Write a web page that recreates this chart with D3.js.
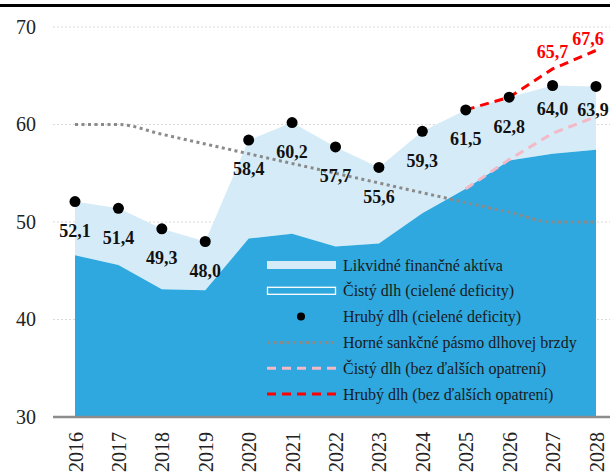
<!DOCTYPE html>
<html lang="sk">
<head>
    <meta charset="UTF-8">
    <title>Dlh</title>
    <script src="https://cdn.jsdelivr.net/npm/d3@7"></script>
    <style>
        body { margin: 0; background: #ffffff; }
        svg text { font-family: "Liberation Serif", "Times New Roman", "DejaVu Serif", serif; }
    </style>
</head>
<body>
<div id="container"></div>
<script>

    // data
    const years = ["2016","2017","2018","2019","2020","2021","2022","2023","2024","2025","2026","2027","2028"];
    const grossDebt = [52.1, 51.4, 49.3, 48.0, 58.4, 60.2, 57.7, 55.6, 59.3, 61.5, 62.8, 64.0, 63.9];
    const netDebt = [46.6, 45.6, 43.1, 43.0, 48.3, 48.8, 47.5, 47.8, 50.9, 53.4, 56.3, 57.0, 57.4];
    const brakeBand = [60, 60, 59, 58, 57, 56, 55, 54, 53, 52, 51, 50, 50];
    const noMeasuresYears = ["2025","2026","2027","2028"];
    const netNoMeasures = [53.4, 56.4, 59.1, 60.8];
    const grossNoMeasures = [61.5, 62.8, 65.7, 67.6];
    const yTicks = [30, 40, 50, 60, 70];
    const legendLabels = [
        "Likvidné finančné aktíva",
        "Čistý dlh (cielené deficity)",
        "Hrubý dlh (cielené deficity)",
        "Horné sankčné pásmo dlhovej brzdy",
        "Čistý dlh (bez ďalších opatrení)",
        "Hrubý dlh (bez ďalších opatrení)"
    ];

    const serif = "Liberation Serif, Times New Roman, serif";
    const fmt = v => v.toFixed(1).replace(".", ",");

    let W = 610, H = 472;
    let svg = d3.select("#container")
        .append("svg")
        .attr("width", W)
        .attr("height", H)
        .attr("font-family", serif);

    let x = d3.scalePoint()
        .domain(years)
        .range([75, 596]);
    let y = d3.scaleLinear()
        .domain([30, 70])
        .range([417, 27]);

    // top rule
    svg.append("rect")
        .attr("x", 0).attr("y", 4)
        .attr("width", W).attr("height", 3)
        .attr("fill", "#000");

    // gridlines
    svg.append("g")
        .selectAll("line")
        .data(yTicks.filter(d => d > 30))
        .join("line")
        .attr("x1", 53).attr("x2", W)
        .attr("y1", d => y(d)).attr("y2", d => y(d))
        .style("stroke", "#d9d9d9")
        .style("stroke-width", "1px")
        .style("stroke-dasharray", "2,2");

    // net debt area (dark)
    let areaNet = d3.area()
        .x((d, i) => x(years[i]))
        .y0(y(30))
        .y1(d => y(d));
    // liquid assets (between net and gross)
    let areaLiquid = d3.area()
        .x((d, i) => x(years[i]))
        .y0((d, i) => y(netDebt[i]))
        .y1(d => y(d));

    svg.append("path")
        .datum(grossDebt)
        .attr("d", areaLiquid)
        .attr("fill", "#d5ecf8");
    svg.append("path")
        .datum(netDebt)
        .attr("d", areaNet)
        .attr("fill", "#2ea8df");

    // debt brake band
    let lineBrake = d3.line()
        .x((d, i) => x(years[i]))
        .y(d => y(d))
        .curve(d3.curveMonotoneX);
    svg.append("path")
        .datum(brakeBand)
        .attr("d", lineBrake)
        .attr("fill", "none")
        .style("stroke", "#8a8a8a")
        .style("stroke-width", "3px")
        .style("stroke-dasharray", "3,3.5");

    let lineNoMeasures = d3.line()
        .x((d, i) => x(noMeasuresYears[i]))
        .y(d => y(d));
    svg.append("path")
        .datum(netNoMeasures)
        .attr("d", lineNoMeasures)
        .attr("fill", "none")
        .style("stroke", "#f4b8c6")
        .style("stroke-width", "3px")
        .style("stroke-dasharray", "9,6");
    svg.append("path")
        .datum(grossNoMeasures)
        .attr("d", lineNoMeasures)
        .attr("fill", "none")
        .style("stroke", "#ff0000")
        .style("stroke-width", "3px")
        .style("stroke-dasharray", "9,6");

    // gross debt dots
    svg.append("g")
        .selectAll("circle")
        .data(grossDebt)
        .join("circle")
        .attr("cx", (d, i) => x(years[i]))
        .attr("cy", d => y(d))
        .attr("r", 5.5)
        .attr("fill", "#000");

    // gross debt labels
    svg.append("g")
        .selectAll("text")
        .data(grossDebt)
        .join("text")
        .attr("x", (d, i) => x(years[i]) - (i === 12 ? 3 : 0))
        .attr("y", (d, i) => y(d) + (i >= 11 ? 23 : 29))
        .attr("dy", "0.35em")
        .attr("text-anchor", "middle")
        .attr("font-family", serif)
        .style("font-size", "18px")
        .style("font-weight", "bold")
        .style("fill", "#111")
        .text(d => fmt(d));

    // red labels (no measures, last two)
    svg.append("g")
        .selectAll("text")
        .data(grossNoMeasures.slice(2))
        .join("text")
        .attr("x", (d, i) => x(noMeasuresYears[i + 2]) - (i === 1 ? 8 : 0))
        .attr("y", (d, i) => y(d) - (i === 1 ? 12 : 17))
        .attr("dy", "0.35em")
        .attr("text-anchor", "middle")
        .attr("font-family", serif)
        .style("font-size", "18px")
        .style("font-weight", "bold")
        .style("fill", "#ff0000")
        .text(d => fmt(d));

    // y axis
    let yAxis = svg.append("g")
        .attr("transform", "translate(36,0)")
        .call(d3.axisLeft(y).tickValues(yTicks).tickSize(0).tickFormat(d3.format("d")));
    yAxis.attr("font-family", serif);
    yAxis.select(".domain").remove();
    yAxis.selectAll("text")
        .attr("x", 0)
        .style("font-size", "20px")
        .style("fill", "#222");

    // x axis
    let xAxis = svg.append("g")
        .attr("transform", "translate(0," + y(30) + ")")
        .call(d3.axisBottom(x).tickSize(0));
    xAxis.attr("font-family", serif);
    xAxis.select(".domain").remove();
    xAxis.selectAll("text")
        .attr("transform", "rotate(-90)")
        .attr("x", -15)
        .attr("y", 0)
        .attr("dy", "0.35em")
        .attr("text-anchor", "end")
        .style("font-size", "20px")
        .style("fill", "#222");
    svg.append("line")
        .attr("x1", 53).attr("x2", W)
        .attr("y1", y(30)).attr("y2", y(30))
        .style("stroke", "#8c8c8c")
        .style("stroke-width", "2.5px");

    // legend
    let legend = svg.append("g").attr("transform", "translate(267,265)");
    let rowH = 25.8;
    let items = legend.selectAll("g")
        .data(legendLabels)
        .join("g")
        .attr("transform", (d, i) => "translate(0," + (i * rowH) + ")");
    items.append("text")
        .attr("x", 76)
        .attr("y", 0)
        .attr("dy", "0.35em")
        .attr("font-family", serif)
        .style("font-size", "16px")
        .style("fill", "#1a1a1a")
        .text(d => d);

    items.filter((d, i) => i === 0).append("rect")
        .attr("x", 0).attr("y", -4).attr("width", 69).attr("height", 8)
        .attr("fill", "#d5ecf8");
    items.filter((d, i) => i === 1).append("rect")
        .attr("x", 0.5).attr("y", -3.5).attr("width", 68).attr("height", 7)
        .attr("fill", "none")
        .style("stroke", "#ffffff")
        .style("stroke-width", "1.3px");
    items.filter((d, i) => i === 2).append("circle")
        .attr("cx", 34).attr("cy", 0).attr("r", 4)
        .attr("fill", "#000");
    items.filter((d, i) => i === 3).append("line")
        .attr("x1", 0).attr("x2", 66).attr("y1", 0).attr("y2", 0)
        .style("stroke", "#8a8a8a").style("stroke-width", "3px")
        .style("stroke-dasharray", "3,3.5");
    items.filter((d, i) => i === 4).append("line")
        .attr("x1", 0).attr("x2", 69).attr("y1", 0).attr("y2", 0)
        .style("stroke", "#f4b8c6").style("stroke-width", "3px")
        .style("stroke-dasharray", "9,6");
    items.filter((d, i) => i === 5).append("line")
        .attr("x1", 0).attr("x2", 69).attr("y1", 0).attr("y2", 0)
        .style("stroke", "#ff0000").style("stroke-width", "3px")
        .style("stroke-dasharray", "9,6");

</script>
</body>
</html>
